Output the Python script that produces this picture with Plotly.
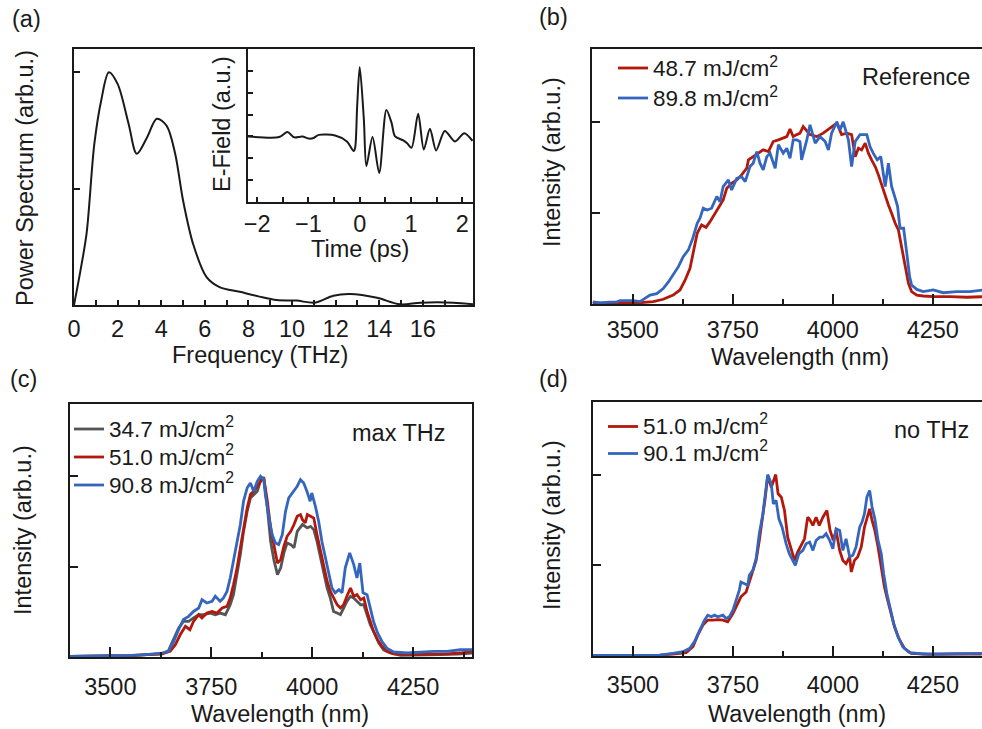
import plotly.graph_objects as go

# ---------------- data ----------------
# (a) THz power spectrum
freq_thz = [0, 0.3, 0.58, 0.93, 1.25, 1.6, 2.0, 2.5, 2.88, 3.35, 3.8, 4.25, 4.64, 5.0, 5.47,
            6.08, 6.7, 7.6, 8.5, 9.3, 10.2, 11.05, 11.9, 12.65, 13.9, 14.95, 15.9, 17.4, 18.3]
power = [0, 0.15, 0.31, 0.69, 0.88, 1.0, 0.95, 0.78, 0.65, 0.72, 0.80, 0.77, 0.65, 0.45, 0.26,
         0.12, 0.076, 0.057, 0.036, 0.021, 0.019, 0.01, 0.04, 0.047, 0.031, 0.003, 0.01, 0.01, 0.003]

# (a) inset: THz E-field waveform
time_ps = [-2.18, -1.57, -1.41, -1.28, -1.12, -0.99, -0.9, -0.8, -0.48, -0.25, -0.12, -0.09, -0.05,
           0.0, 0.08, 0.13, 0.25, 0.38, 0.52, 0.62, 0.69, 0.85, 0.92, 1.01, 1.14, 1.25, 1.37,
           1.49, 1.66, 1.86, 2.04, 2.2]
efield = [0, -0.03, 0.2, -0.04, 0, -0.1, -0.07, 0.07, 0.04, -0.23, -0.67, -0.52, 1.4,
          3.18, 0.8, -1.36, -0.03, -1.67, 1.21, 0.63, 0, -0.18, -0.3, -0.52, 1.04, -0.6, 0.35,
          -0.64, 0.25, -0.23, 0.15, -0.2]

# (b) Reference
b_wl_487 = [3400, 3430, 3460, 3490, 3518, 3551, 3576, 3601, 3618, 3631, 3643, 3653, 3661, 3672, 3683,
            3693, 3706, 3718, 3726, 3735, 3747, 3760, 3772, 3785, 3789, 3801, 3814, 3826, 3839, 3851,
            3864, 3876, 3885, 3893, 3901, 3910, 3918, 3926, 3943, 3960, 3976, 3993, 4010, 4022, 4035,
            4047, 4056, 4064, 4072, 4081, 4089, 4097, 4106, 4114, 4122, 4131, 4139, 4147, 4156, 4164,
            4172, 4181, 4189, 4197, 4210, 4226, 4251, 4293, 4335, 4375]
b_int_487 = [0.005, 0.004, 0.004, 0.006, 0.007, 0.013, 0.026, 0.049, 0.077, 0.132, 0.196, 0.297, 0.388,
             0.434, 0.421, 0.452, 0.498, 0.535, 0.571, 0.636, 0.663, 0.681, 0.709, 0.746, 0.791, 0.809,
             0.828, 0.846, 0.837, 0.892, 0.901, 0.910, 0.919, 0.960, 0.919, 0.930, 0.938, 0.974, 0.930,
             0.919, 0.938, 0.965, 0.993, 0.930, 0.938, 0.930, 0.809, 0.855, 0.846, 0.883, 0.828, 0.791,
             0.755, 0.709, 0.654, 0.590, 0.544, 0.498, 0.443, 0.407, 0.315, 0.205, 0.114, 0.068, 0.049,
             0.044, 0.040, 0.040, 0.037, 0.040]
b_wl_898 = [3400, 3420, 3440, 3460, 3468, 3501, 3518, 3543, 3560, 3576, 3589, 3601, 3614, 3626, 3639,
            3650, 3661, 3668, 3676, 3686, 3697, 3710, 3718, 3726, 3739, 3747, 3760, 3772, 3781, 3793,
            3801, 3810, 3818, 3826, 3835, 3843, 3856, 3864, 3876, 3885, 3893, 3901, 3910, 3918, 3922,
            3935, 3943, 3956, 3968, 3981, 3989, 3997, 4010, 4018, 4026, 4039, 4047, 4056, 4068, 4085,
            4093, 4101, 4111, 4120, 4131, 4139, 4147, 4156, 4162, 4168, 4177, 4185, 4192, 4197, 4210,
            4226, 4251, 4276, 4310, 4343, 4375]
b_int_898 = [0.012, 0.006, 0.010, 0.012, 0.018, 0.018, 0.013, 0.049, 0.057, 0.085, 0.121, 0.158, 0.205,
             0.260, 0.297, 0.361, 0.443, 0.471, 0.526, 0.516, 0.526, 0.590, 0.562, 0.645, 0.681, 0.626,
             0.690, 0.699, 0.672, 0.755, 0.773, 0.837, 0.773, 0.736, 0.809, 0.828, 0.745, 0.874, 0.828,
             0.855, 0.800, 0.901, 0.901, 0.892, 0.791, 0.901, 0.984, 0.883, 0.919, 0.892, 0.846, 0.938,
             1.0, 0.956, 1.0, 0.901, 0.755, 0.892, 0.930, 0.930, 0.864, 0.828, 0.791, 0.809, 0.645,
             0.773, 0.645, 0.581, 0.535, 0.416, 0.416, 0.278, 0.150, 0.104, 0.080, 0.068, 0.077, 0.062,
             0.068, 0.068, 0.077]

# (c) max THz
c_wl_347 = [3400, 3450, 3500, 3550, 3580, 3605, 3628, 3644, 3657, 3669, 3681, 3694, 3706, 3719, 3731,
            3748, 3760, 3772, 3785, 3797, 3805, 3814, 3822, 3830, 3839, 3847, 3855, 3864, 3872, 3880,
            3889, 3897, 3905, 3914, 3922, 3930, 3938, 3947, 3955, 3963, 3976, 3988, 3996, 4004, 4012,
            4020, 4029, 4037, 4045, 4053, 4062, 4070, 4078, 4086, 4095, 4103, 4111, 4120, 4128, 4136,
            4144, 4154, 4165, 4177, 4194, 4219, 4268, 4318, 4360, 4396]
c_int_347 = [0.003, 0.004, 0.005, 0.008, 0.012, 0.015, 0.017, 0.035, 0.096, 0.160, 0.197, 0.197, 0.216,
             0.234, 0.234, 0.243, 0.234, 0.243, 0.234, 0.289, 0.345, 0.456, 0.567, 0.695, 0.806, 0.880,
             0.899, 0.917, 0.975, 0.995, 0.825, 0.640, 0.539, 0.456, 0.493, 0.576, 0.631, 0.622, 0.604,
             0.695, 0.733, 0.714, 0.723, 0.705, 0.640, 0.557, 0.474, 0.382, 0.326, 0.252, 0.243, 0.234,
             0.271, 0.308, 0.336, 0.326, 0.308, 0.289, 0.289, 0.234, 0.179, 0.133, 0.077, 0.040, 0.022,
             0.009, 0.009, 0.013, 0.016, 0.022]
c_wl_510 = [3400, 3450, 3500, 3550, 3580, 3605, 3628, 3648, 3661, 3673, 3686, 3697, 3706, 3719, 3727,
            3739, 3752, 3764, 3777, 3789, 3797, 3805, 3814, 3822, 3830, 3839, 3847, 3855, 3864, 3872,
            3880, 3889, 3897, 3905, 3914, 3922, 3930, 3938, 3947, 3955, 3963, 3971, 3976, 3983, 3988,
            3996, 4004, 4012, 4020, 4029, 4037, 4045, 4053, 4062, 4070, 4078, 4086, 4095, 4103, 4111,
            4120, 4128, 4136, 4144, 4152, 4162, 4173, 4185, 4202, 4235, 4268, 4301, 4334, 4367, 4396]
c_int_510 = [0.003, 0.004, 0.005, 0.008, 0.012, 0.014, 0.017, 0.031, 0.068, 0.123, 0.170, 0.151, 0.197,
             0.234, 0.216, 0.243, 0.252, 0.243, 0.271, 0.280, 0.326, 0.400, 0.493, 0.604, 0.714, 0.825,
             0.899, 0.917, 0.945, 0.972, 0.991, 0.862, 0.714, 0.622, 0.520, 0.539, 0.613, 0.668, 0.695,
             0.733, 0.779, 0.788, 0.760, 0.742, 0.788, 0.779, 0.769, 0.677, 0.594, 0.502, 0.419, 0.363,
             0.326, 0.289, 0.271, 0.289, 0.336, 0.382, 0.336, 0.345, 0.317, 0.326, 0.252, 0.197, 0.142,
             0.096, 0.059, 0.031, 0.017, 0.013, 0.013, 0.017, 0.017, 0.022, 0.031]
c_wl_908 = [3400, 3450, 3500, 3550, 3580, 3599, 3628, 3644, 3657, 3669, 3681, 3694, 3706, 3719, 3727,
            3739, 3752, 3760, 3772, 3780, 3789, 3797, 3805, 3814, 3822, 3830, 3839, 3847, 3855, 3864,
            3872, 3880, 3884, 3893, 3901, 3909, 3917, 3926, 3934, 3942, 3955, 3963, 3971, 3979, 3987,
            3995, 3999, 4008, 4016, 4024, 4033, 4041, 4049, 4057, 4066, 4074, 4082, 4093, 4103, 4111,
            4118, 4126, 4136, 4144, 4152, 4162, 4173, 4185, 4202, 4235, 4268, 4301, 4334, 4367, 4396]
c_int_908 = [0.003, 0.004, 0.006, 0.009, 0.012, 0.015, 0.022, 0.031, 0.086, 0.151, 0.207, 0.225, 0.252,
             0.271, 0.317, 0.299, 0.308, 0.336, 0.308, 0.326, 0.363, 0.437, 0.529, 0.622, 0.733, 0.862,
             0.936, 0.963, 0.917, 0.972, 1.0, 0.981, 0.899, 0.770, 0.677, 0.631, 0.622, 0.677, 0.806,
             0.880, 0.917, 0.945, 0.981, 0.963, 0.917, 0.862, 0.908, 0.834, 0.751, 0.640, 0.548, 0.456,
             0.382, 0.355, 0.373, 0.355, 0.493, 0.576, 0.511, 0.437, 0.520, 0.355, 0.345, 0.271, 0.197,
             0.133, 0.086, 0.049, 0.028, 0.022, 0.028, 0.031, 0.031, 0.040, 0.040]

# (d) no THz
d_wl_510 = [3400, 3450, 3500, 3540, 3567, 3600, 3633, 3650, 3662, 3675, 3687, 3700, 3712, 3725, 3737,
            3750, 3762, 3770, 3783, 3795, 3808, 3816, 3825, 3831, 3837, 3846, 3857, 3863, 3871, 3879,
            3887, 3896, 3904, 3912, 3921, 3929, 3937, 3941, 3950, 3958, 3966, 3975, 3985, 3993, 4001,
            4008, 4017, 4025, 4033, 4042, 4046, 4054, 4062, 4071, 4079, 4085, 4092, 4098, 4105, 4113,
            4121, 4129, 4137, 4146, 4154, 4165, 4179, 4196, 4242, 4301, 4372]
d_int_510 = [0.003, 0.003, 0.004, 0.004, 0.005, 0.011, 0.018, 0.051, 0.115, 0.170, 0.198, 0.198, 0.200,
             0.198, 0.189, 0.234, 0.289, 0.326, 0.353, 0.436, 0.527, 0.637, 0.765, 0.875, 0.994, 0.930,
             1.0, 0.894, 0.875, 0.802, 0.655, 0.582, 0.527, 0.573, 0.610, 0.646, 0.765, 0.756, 0.720,
             0.765, 0.720, 0.765, 0.802, 0.692, 0.637, 0.692, 0.582, 0.527, 0.509, 0.546, 0.463, 0.527,
             0.546, 0.601, 0.710, 0.756, 0.811, 0.747, 0.692, 0.601, 0.491, 0.381, 0.308, 0.234, 0.161,
             0.097, 0.042, 0.015, 0.009, 0.011, 0.011]
d_wl_901 = [3400, 3450, 3500, 3540, 3567, 3600, 3625, 3642, 3654, 3667, 3679, 3687, 3696, 3704, 3712,
            3725, 3733, 3741, 3750, 3758, 3766, 3770, 3779, 3787, 3791, 3800, 3808, 3816, 3825, 3831,
            3837, 3846, 3851, 3858, 3865, 3873, 3883, 3891, 3900, 3906, 3915, 3925, 3933, 3942, 3950,
            3958, 3967, 3975, 3983, 3992, 4000, 4008, 4017, 4025, 4033, 4042, 4050, 4058, 4067, 4073,
            4079, 4085, 4092, 4098, 4105, 4113, 4121, 4127, 4135, 4144, 4152, 4163, 4175, 4192, 4226,
            4276, 4326, 4375]
d_int_901 = [0.003, 0.003, 0.004, 0.004, 0.005, 0.015, 0.024, 0.042, 0.079, 0.143, 0.198, 0.225, 0.216,
             0.225, 0.216, 0.225, 0.207, 0.216, 0.253, 0.308, 0.363, 0.408, 0.399, 0.390, 0.445, 0.473,
             0.537, 0.674, 0.784, 0.894, 1.0, 0.949, 0.839, 0.857, 0.756, 0.710, 0.619, 0.564, 0.527,
             0.500, 0.564, 0.582, 0.619, 0.628, 0.582, 0.637, 0.655, 0.655, 0.674, 0.637, 0.591, 0.701,
             0.692, 0.582, 0.646, 0.546, 0.555, 0.601, 0.710, 0.738, 0.784, 0.875, 0.912, 0.821, 0.756,
             0.637, 0.564, 0.454, 0.344, 0.253, 0.180, 0.106, 0.050, 0.018, 0.011, 0.011, 0.011, 0.015]

fluence_b = ["48.7", "89.8"]
fluence_c = ["34.7", "51.0", "90.8"]
fluence_d = ["51.0", "90.1"]

wl_ticks = [3500, 3750, 4000, 4250]
wl_minor = [3625, 3875, 4125, 4375]
freq_ticks = [0, 2, 4, 6, 8, 10, 12, 14, 16]
freq_minor = [1, 3, 5, 7, 9, 11, 13, 15, 17]
time_ticks = [-2, -1, 0, 1, 2]
time_minor = [-1.5, -0.5, 0.5, 1.5]

# ---------------- style ----------------
W, H = 982, 729
FONT = "Liberation Sans, Arial, sans-serif"
FS = 23.5
LEG_FS = 22.5
INK = "#1a1a1a"
RED = "#B2180C"
BLUE = "#3466BE"
GRAY = "#555555"
LW = 2.8


def X(px):
    return px / W


def Y(py):
    return 1 - py / H


def label(fl):
    return '<span style="font-size:%gpx">%s mJ/cm<sup>2</sup></span>' % (LEG_FS, fl)


fig = go.Figure()

# (a)
fig.add_trace(go.Scatter(x=freq_thz, y=power, mode="lines",
                         line=dict(color=INK, width=2, shape="spline", smoothing=0.9),
                         xaxis="x", yaxis="y", showlegend=False))
fig.add_trace(go.Scatter(x=time_ps, y=efield, mode="lines",
                         line=dict(color=INK, width=2, shape="spline", smoothing=0.8),
                         xaxis="x2", yaxis="y2", showlegend=False))
# (b)
fig.add_trace(go.Scatter(x=b_wl_487, y=b_int_487, mode="lines", line=dict(color=RED, width=LW),
                         name=label(fluence_b[0]), xaxis="x3", yaxis="y3", legend="legend"))
fig.add_trace(go.Scatter(x=b_wl_898, y=b_int_898, mode="lines", line=dict(color=BLUE, width=LW),
                         name=label(fluence_b[1]), xaxis="x3", yaxis="y3", legend="legend"))
# (c)
fig.add_trace(go.Scatter(x=c_wl_347, y=c_int_347, mode="lines", line=dict(color=GRAY, width=LW),
                         name=label(fluence_c[0]), xaxis="x4", yaxis="y4", legend="legend2"))
fig.add_trace(go.Scatter(x=c_wl_510, y=c_int_510, mode="lines", line=dict(color=RED, width=LW),
                         name=label(fluence_c[1]), xaxis="x4", yaxis="y4", legend="legend2"))
fig.add_trace(go.Scatter(x=c_wl_908, y=c_int_908, mode="lines", line=dict(color=BLUE, width=LW),
                         name=label(fluence_c[2]), xaxis="x4", yaxis="y4", legend="legend2"))
# (d)
fig.add_trace(go.Scatter(x=d_wl_510, y=d_int_510, mode="lines", line=dict(color=RED, width=LW),
                         name=label(fluence_d[0]), xaxis="x5", yaxis="y5", legend="legend3"))
fig.add_trace(go.Scatter(x=d_wl_901, y=d_int_901, mode="lines", line=dict(color=BLUE, width=LW),
                         name=label(fluence_d[1]), xaxis="x5", yaxis="y5", legend="legend3"))

axline = dict(showline=True, linecolor=INK, linewidth=1.5, showgrid=False, zeroline=False,
              automargin=False, ticks="inside", tickcolor=INK, tickwidth=1.5,
              tickfont=dict(family=FONT, size=FS, color=INK))


def minor_ticks(vals, length):
    return dict(tickmode="array", tickvals=vals, ticks="inside", ticklen=length,
                tickcolor=INK, tickwidth=1.5, showgrid=False)


def wl_axis(domain, rng, anchor, standoff):
    d = dict(axline)
    d.update(domain=domain, range=rng, anchor=anchor, tickmode="array", tickvals=wl_ticks,
             ticklen=10, mirror=True, ticklabelstandoff=standoff, minor=minor_ticks(wl_minor, 5))
    return d


def int_axis(domain, anchor, mirror):
    d = dict(axline)
    d.update(domain=domain, range=[0, 1.4], anchor=anchor, tickmode="array", tickvals=[0, 0.5, 1.0],
             showticklabels=False, ticklen=8, mirror=mirror)
    return d


ax_a_x = dict(axline)
ax_a_x.update(domain=[X(74), X(473)], range=[0, 18.3], anchor="y", tickmode="array", tickvals=freq_ticks,
              ticklen=5, mirror=True, ticklabelstandoff=2, minor=minor_ticks(freq_minor, 5))
ax_a_y = dict(axline)
ax_a_y.update(domain=[Y(305), Y(49)], range=[0, 1.1], anchor="x", tickmode="array", tickvals=[0, 0.5, 1.0],
              showticklabels=False, ticklen=6, mirror=True)
ax_i_x = dict(axline)
ax_i_x.update(domain=[X(248), X(473)], range=[-2.18, 2.21], anchor="y2", tickmode="array", tickvals=time_ticks,
              ticklen=5, mirror=True, ticklabelstandoff=0, minor=minor_ticks(time_minor, 5))
ax_i_y = dict(axline)
ax_i_y.update(domain=[Y(202), Y(49)], range=[-3, 4], anchor="x2", tickmode="array",
              tickvals=[-2, -1, 0, 1, 2, 3], showticklabels=False, ticklen=5, mirror=True)


def legend_box(x, y, row_px):
    return dict(bgcolor="rgba(0,0,0,0)", borderwidth=0, xanchor="left", yanchor="top",
                x=X(x), y=Y(y), itemwidth=30, tracegroupgap=0,
                font=dict(family=FONT, size=(row_px - 3) / 1.3, color=INK))


fig.update_layout(
    template="none",
    width=W, height=H, margin=dict(l=0, r=0, t=0, b=0, autoexpand=False),
    paper_bgcolor="white", plot_bgcolor="white",
    font=dict(family=FONT, size=FS, color=INK),
    xaxis=ax_a_x, yaxis=ax_a_y,
    xaxis2=ax_i_x, yaxis2=ax_i_y,
    xaxis3=wl_axis([X(592), 1], [3398, 4373], "y3", 4),
    yaxis3=int_axis([Y(304), Y(49)], "x3", False),
    xaxis4=wl_axis([X(70), X(472)], [3400, 4396], "y4", 8),
    yaxis4=int_axis([Y(657), Y(404)], "x4", True),
    xaxis5=wl_axis([X(593), 1], [3400, 4373], "y5", 7),
    yaxis5=int_axis([Y(656), Y(402)], "x5", False),
    legend=legend_box(613, 48, 30),
    legend2=legend_box(69, 410, 28),
    legend3=legend_box(603, 408, 27),
    showlegend=True,
)


def ann(text, x, y, angle=0, xanchor="center"):
    fig.add_annotation(text=text, x=X(x), y=Y(y), xref="paper", yref="paper", showarrow=False,
                       textangle=angle, xanchor=xanchor, yanchor="middle",
                       font=dict(family=FONT, size=FS, color=INK))


# panel letters
ann("(a)", 26, 19)
ann("(b)", 553, 17)
ann("(c)", 23, 379)
ann("(d)", 553, 379)
# axis titles
ann("Frequency (THz)", 260, 355)
ann("Power Spectrum (arb.u.)", 25, 178, angle=-90)
ann("Time (ps)", 360, 249)
ann("E-Field (a.u.)", 222, 124, angle=-90)
ann("Wavelength (nm)", 800, 357)
ann("Intensity (arb.u.)", 552, 162, angle=-90)
ann("Wavelength (nm)", 280, 714)
ann("Intensity (arb.u.)", 23, 530, angle=-90)
ann("Wavelength (nm)", 797, 714)
ann("Intensity (arb.u.)", 552, 525, angle=-90)
# in-panel labels
ann("Reference", 972, 77, xanchor="right")
ann("max THz", 448, 433, xanchor="right")
ann("no THz", 971, 430, xanchor="right")

fig.write_html("out.html", config={"displayModeBar": False},
               post_script="document.body.style.margin='0px';")
